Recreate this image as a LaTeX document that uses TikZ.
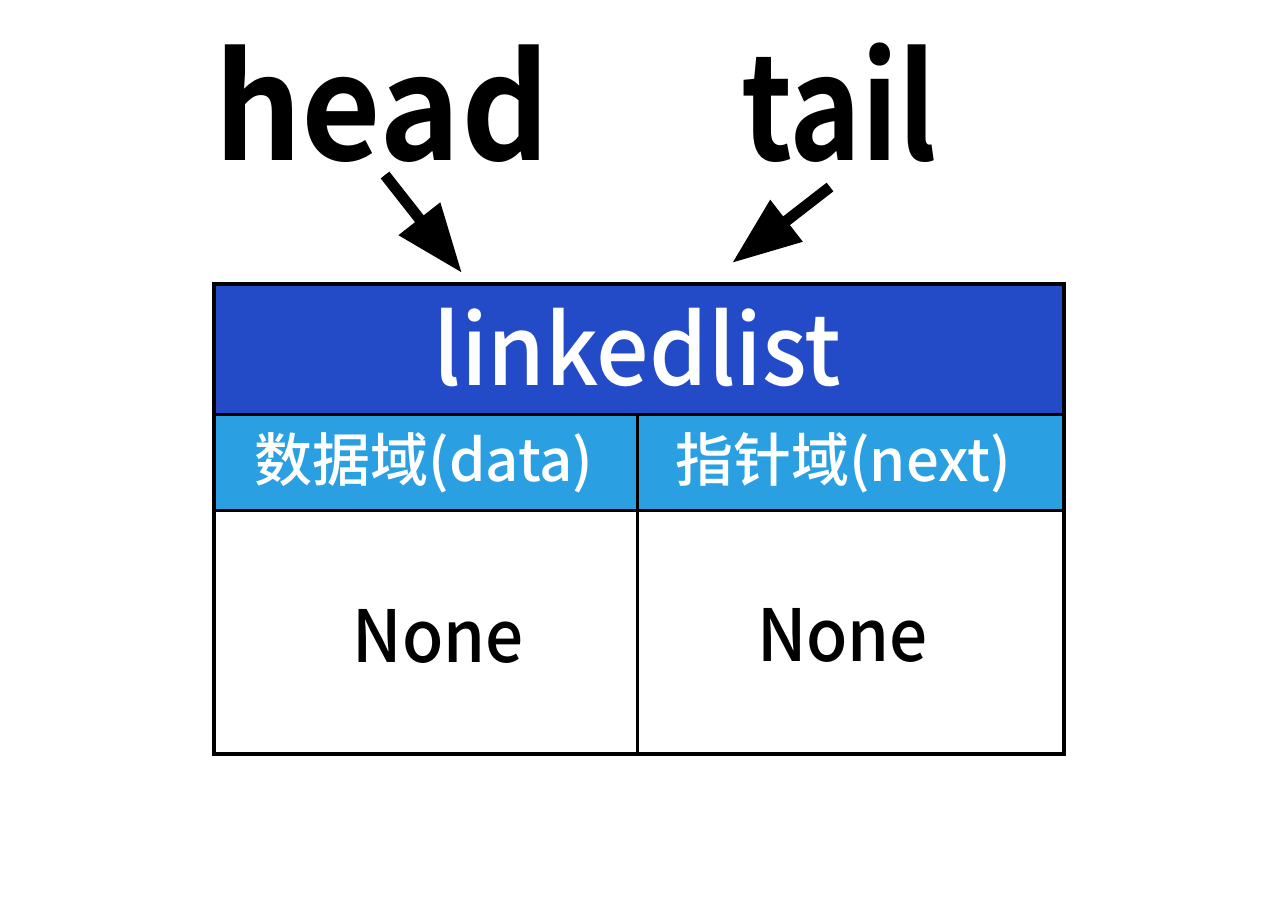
\documentclass[tikz,border=0pt]{standalone}
\usepackage{fontspec}
\setmainfont{Noto Sans CJK SC}
\newfontfamily\boldf{Noto Sans CJK SC Bold}
\newfontfamily\medf{Noto Sans CJK SC Medium}
\usetikzlibrary{arrows.meta}
\definecolor{titleblue}{RGB}{35,75,200}
\definecolor{headblue}{RGB}{42,160,226}
\begin{document}
\begin{tikzpicture}[x=1pt,y=-1pt,
  cellbox/.style={draw=black,line width=3pt,inner sep=0pt,outer sep=0pt,minimum height=#1},
  bigtxt/.style={anchor=base,inner sep=0pt,font=\boldf\fontsize{145}{145}\selectfont},
  titletxt/.style={anchor=base,inner sep=0pt,text=white,font=\medf\fontsize{97}{97}\selectfont},
  headtxt/.style={anchor=base,inner sep=0pt,text=white,font=\medf\fontsize{58}{58}\selectfont},
  bodytxt/.style={anchor=base,inner sep=0pt,font=\medf\fontsize{72}{72}\selectfont},
  ptr/.style={line width=11pt,-{Triangle[length=69pt,width=50pt]}}]
\useasboundingbox[fill=white] (0,0) rectangle (1280,922);
% table
\node[cellbox=130pt,fill=titleblue,minimum width=850pt] (title) at (639,349) {};
\node[cellbox=96pt,fill=headblue,minimum width=423pt] (hdata) at (425.5,462) {};
\node[cellbox=96pt,fill=headblue,minimum width=427pt] (hnext) at (850.5,462) {};
\node[cellbox=244pt,fill=white,minimum width=423pt] (bdata) at (425.5,632) {};
\node[cellbox=244pt,fill=white,minimum width=427pt] (bnext) at (850.5,632) {};
\draw[line width=4.5pt] (title.north west) rectangle (bnext.south east);
% texts
\node[titletxt] (tt) at (637.5,385) {\scalebox{0.957}[1]{linkedlist}};
\node[headtxt] (td) at (424,481) {数据域(data)};
\node[headtxt] (tn) at (843,481) {指针域(next)};
\node[bodytxt] (nd) at (438.3,662) {\scalebox{0.935}[1]{None}};
\node[bodytxt] (nn) at (842.5,661) {\scalebox{0.935}[1]{None}};
% labels
\node[bigtxt] (head) at (381.7,160) {\scalebox{0.947}[1]{head}};
\node[bigtxt] (tail) at (839,160) {\scalebox{0.84}[1]{tail}};
\coordinate (hs) at (385,175);
\coordinate (he) at (462,273);
\coordinate (ts) at (830,187);
\coordinate (te) at (732,263);
\draw[ptr] (hs) -- (he);
\draw[ptr] (ts) -- (te);
\end{tikzpicture}
\end{document}
